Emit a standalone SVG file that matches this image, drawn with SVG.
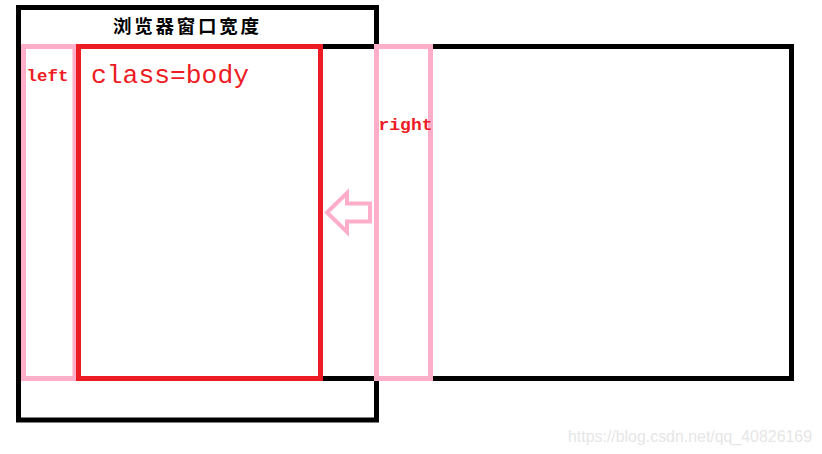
<svg xmlns="http://www.w3.org/2000/svg" width="822" height="454" viewBox="0 0 822 454">
<style>
.blk{fill:none;stroke:#000;stroke-width:5}
.pink{fill:none;stroke:#FFAEC9;stroke-width:5}
.red{fill:none;stroke:#ED1C24;stroke-width:5}
.lbl{fill:#ED1C24;font-family:"Liberation Mono","DejaVu Sans Mono",monospace}
</style>
<rect width="822" height="454" fill="#fff"/>
<g id="window">
<rect class="blk" x="18.5" y="7.5" width="358" height="412.5"/>
<text x="186" y="33" text-anchor="middle" font-family="Noto Sans CJK SC, sans-serif" font-weight="bold" font-size="18.5" textLength="146" lengthAdjust="spacing" fill="#000">浏览器窗口宽度</text>
</g>
<g id="page">
<rect class="blk" x="23.5" y="46.5" width="768" height="332"/>
</g>
<g id="left">
<rect class="pink" x="23.5" y="46.5" width="51.5" height="332"/>
<text class="lbl" x="26.5" y="81" font-size="16" font-weight="bold" textLength="42" lengthAdjust="spacingAndGlyphs">left</text>
</g>
<g id="body">
<rect class="red" x="78.5" y="46.5" width="242" height="332"/>
<text class="lbl" x="91" y="83" font-size="25" textLength="158" lengthAdjust="spacingAndGlyphs">class=body</text>
</g>
<g id="right">
<rect class="pink" x="376.5" y="46.5" width="54" height="332"/>
<text class="lbl" x="378.5" y="130" font-size="16" font-weight="bold" textLength="54" lengthAdjust="spacingAndGlyphs">right</text>
</g>
<g id="connectors">
<polygon points="327,212.5 347,193 347,203.5 370,203.5 370,221.5 347,221.5 347,232" fill="none" stroke="#FFAEC9" stroke-width="4" stroke-linejoin="miter"/>
</g>
<text x="568" y="442" font-family="Liberation Sans, Arial, sans-serif" font-size="16" fill="#E6E6E6" textLength="244" lengthAdjust="spacingAndGlyphs">https://blog.csdn.net/qq_40826169</text>
</svg>
